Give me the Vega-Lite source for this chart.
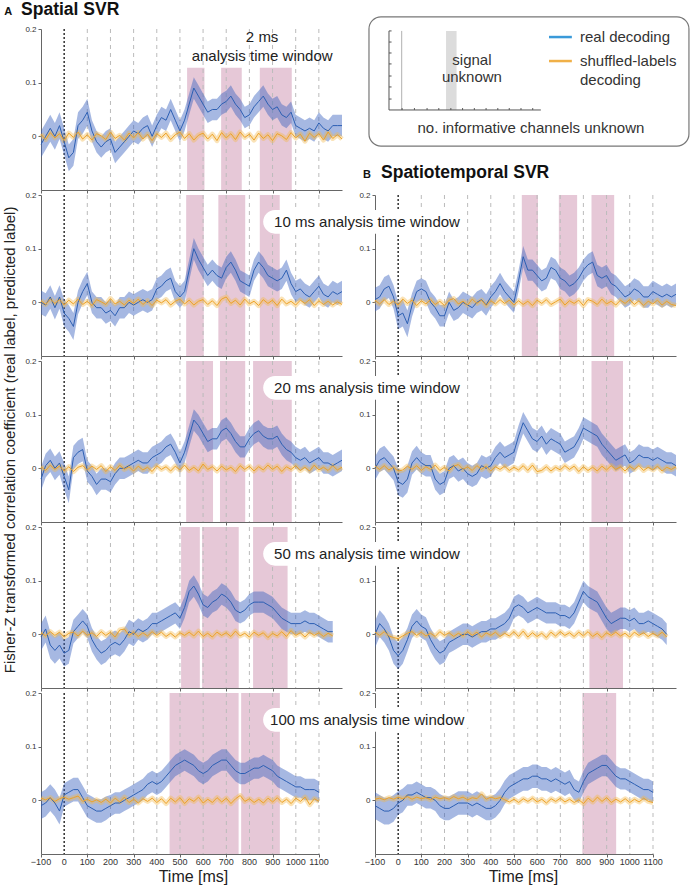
{
"$schema":"https://vega.github.io/schema/vega-lite/v6.json",
"padding":{"left":2,"top":1,"right":0,"bottom":0},
"config":{"font":"Liberation Sans","view":{"stroke":null},"axis":{"grid":false,"domainColor":"#666","tickColor":"#666","labelColor":"#333","labelFontSize":8,"tickSize":3,"labelPadding":2,"zindex":0}},
"columns":2,
"spacing":{"row":5,"column":33},
"bounds":"flush",
"datasets":{
"grid":[{"g":100},{"g":200},{"g":300},{"g":400},{"g":500},{"g":600},{"g":700},{"g":800},{"g":900},{"g":1000},{"g":1100}],
"ticks5":[{"v":-100},{"v":0},{"v":100},{"v":200},{"v":300},{"v":400},{"v":500},{"v":600},{"v":700},{"v":800},{"v":900},{"v":1000},{"v":1100}],
"a1":[{"t":-100,"r":-0.015,"e":0.025,"s":0.004},{"t":-80,"r":0,"e":0.025,"s":-0.006},{"t":-60,"r":0.015,"e":0.025,"s":0.007},{"t":-40,"r":0,"e":0.025,"s":-0.003},{"t":-20,"r":0.02,"e":0.025,"s":0.005},{"t":0,"r":-0.01,"e":0.025,"s":-0.008},{"t":20,"r":-0.04,"e":0.025,"s":0.006},{"t":40,"r":-0.03,"e":0.025,"s":-0.002},{"t":60,"r":0.02,"e":0.025,"s":0.008},{"t":80,"r":0.03,"e":0.025,"s":-0.005},{"t":100,"r":0.045,"e":0.025,"s":0.003},{"t":120,"r":0.01,"e":0.02,"s":-0.007},{"t":140,"r":-0.01,"e":0.02,"s":0.005},{"t":160,"r":-0.02,"e":0.02,"s":0.001},{"t":180,"r":-0.01,"e":0.02,"s":-0.006},{"t":200,"r":-0.005,"e":0.02,"s":0.008},{"t":220,"r":-0.03,"e":0.02,"s":-0.004},{"t":240,"r":-0.02,"e":0.02,"s":0.002},{"t":260,"r":-0.01,"e":0.02,"s":-0.007},{"t":280,"r":0,"e":0.02,"s":0.006},{"t":300,"r":0.01,"e":0.02,"s":-0.003},{"t":320,"r":0.005,"e":0.02,"s":0.007},{"t":340,"r":0.015,"e":0.02,"s":-0.005},{"t":360,"r":0.02,"e":0.02,"s":0.004},{"t":380,"r":0,"e":0.02,"s":-0.008},{"t":400,"r":0.02,"e":0.02,"s":0.005},{"t":420,"r":0.035,"e":0.02,"s":-0.002},{"t":440,"r":0.03,"e":0.02,"s":0.006},{"t":460,"r":0.05,"e":0.02,"s":-0.006},{"t":480,"r":0.03,"e":0.02,"s":0.003},{"t":500,"r":0.01,"e":0.02,"s":0.008},{"t":520,"r":0.03,"e":0.02,"s":-0.004},{"t":540,"r":0.06,"e":0.02,"s":0.005},{"t":560,"r":0.09,"e":0.02,"s":-0.007},{"t":580,"r":0.075,"e":0.02,"s":0.002},{"t":600,"r":0.06,"e":0.02,"s":0.006},{"t":620,"r":0.045,"e":0.02,"s":-0.005},{"t":640,"r":0.05,"e":0.02,"s":0.004},{"t":660,"r":0.05,"e":0.02,"s":-0.008},{"t":680,"r":0.06,"e":0.02,"s":0.007},{"t":700,"r":0.065,"e":0.02,"s":-0.003},{"t":720,"r":0.075,"e":0.02,"s":0.005},{"t":740,"r":0.06,"e":0.02,"s":-0.006},{"t":760,"r":0.05,"e":0.02,"s":0.008},{"t":780,"r":0.035,"e":0.02,"s":-0.002},{"t":800,"r":0.04,"e":0.02,"s":0.004},{"t":820,"r":0.055,"e":0.02,"s":-0.007},{"t":840,"r":0.065,"e":0.02,"s":0.006},{"t":860,"r":0.075,"e":0.02,"s":-0.004},{"t":880,"r":0.06,"e":0.02,"s":0.003},{"t":900,"r":0.05,"e":0.02,"s":-0.008},{"t":920,"r":0.055,"e":0.02,"s":0.005},{"t":940,"r":0.04,"e":0.02,"s":0.001},{"t":960,"r":0.035,"e":0.02,"s":-0.006},{"t":980,"r":0.045,"e":0.02,"s":0.007},{"t":1000,"r":0.02,"e":0.02,"s":-0.003},{"t":1020,"r":0.015,"e":0.02,"s":0.004},{"t":1040,"r":0.01,"e":0.02,"s":-0.009},{"t":1060,"r":0.015,"e":0.02,"s":0.006},{"t":1080,"r":0.01,"e":0.02,"s":-0.002},{"t":1100,"r":0.025,"e":0.02,"s":0.005},{"t":1120,"r":0.015,"e":0.02,"s":-0.007},{"t":1140,"r":0.01,"e":0.02,"s":0.008},{"t":1160,"r":0.02,"e":0.02,"s":-0.004},{"t":1180,"r":0.02,"e":0.02,"s":0.003},{"t":1200,"r":0.02,"e":0.02,"s":-0.005}],
"a2":[{"t":-100,"r":0,"e":0.022,"s":0.003},{"t":-80,"r":-0.005,"e":0.022,"s":-0.004},{"t":-60,"r":0.01,"e":0.022,"s":0.006},{"t":-40,"r":-0.01,"e":0.022,"s":-0.002},{"t":-20,"r":0.01,"e":0.022,"s":0.005},{"t":0,"r":-0.02,"e":0.025,"s":-0.005},{"t":20,"r":-0.03,"e":0.025,"s":0.004},{"t":40,"r":-0.045,"e":0.025,"s":-0.003},{"t":60,"r":0,"e":0.022,"s":0.006},{"t":80,"r":0.02,"e":0.022,"s":-0.004},{"t":100,"r":0.035,"e":0.022,"s":0.002},{"t":120,"r":0,"e":0.02,"s":-0.006},{"t":140,"r":-0.01,"e":0.02,"s":0.005},{"t":160,"r":-0.01,"e":0.02,"s":0.001},{"t":180,"r":-0.02,"e":0.02,"s":-0.004},{"t":200,"r":-0.015,"e":0.02,"s":0.007},{"t":220,"r":-0.025,"e":0.02,"s":-0.003},{"t":240,"r":-0.01,"e":0.02,"s":0.002},{"t":260,"r":-0.01,"e":0.02,"s":-0.005},{"t":280,"r":0,"e":0.02,"s":0.004},{"t":300,"r":-0.005,"e":0.02,"s":-0.002},{"t":320,"r":0,"e":0.02,"s":0.006},{"t":340,"r":0.005,"e":0.02,"s":-0.004},{"t":360,"r":0,"e":0.02,"s":0.003},{"t":380,"r":0.005,"e":0.02,"s":-0.006},{"t":400,"r":0.025,"e":0.02,"s":0.004},{"t":420,"r":0.03,"e":0.02,"s":-0.001},{"t":440,"r":0.04,"e":0.02,"s":0.005},{"t":460,"r":0.045,"e":0.02,"s":-0.005},{"t":480,"r":0.02,"e":0.02,"s":0.002},{"t":500,"r":0.01,"e":0.02,"s":0.006},{"t":520,"r":0.02,"e":0.02,"s":-0.003},{"t":540,"r":0.06,"e":0.02,"s":0.004},{"t":560,"r":0.1,"e":0.02,"s":-0.005},{"t":580,"r":0.08,"e":0.02,"s":0.002},{"t":600,"r":0.065,"e":0.02,"s":0.005},{"t":620,"r":0.05,"e":0.02,"s":-0.004},{"t":640,"r":0.06,"e":0.02,"s":0.003},{"t":660,"r":0.05,"e":0.02,"s":-0.006},{"t":680,"r":0.045,"e":0.02,"s":0.006},{"t":700,"r":0.065,"e":0.02,"s":0.01},{"t":720,"r":0.075,"e":0.02,"s":-0.002},{"t":740,"r":0.06,"e":0.02,"s":0.004},{"t":760,"r":0.04,"e":0.02,"s":-0.005},{"t":780,"r":0.035,"e":0.02,"s":0.006},{"t":800,"r":0.03,"e":0.02,"s":-0.003},{"t":820,"r":0.06,"e":0.02,"s":0.002},{"t":840,"r":0.075,"e":0.02,"s":-0.006},{"t":860,"r":0.065,"e":0.02,"s":0.005},{"t":880,"r":0.05,"e":0.02,"s":-0.002},{"t":900,"r":0.045,"e":0.02,"s":0.004},{"t":920,"r":0.04,"e":0.02,"s":-0.006},{"t":940,"r":0.045,"e":0.02,"s":0.006},{"t":960,"r":0.06,"e":0.02,"s":-0.003},{"t":980,"r":0.035,"e":0.02,"s":0.002},{"t":1000,"r":0.02,"e":0.02,"s":-0.005},{"t":1020,"r":0.025,"e":0.02,"s":0.004},{"t":1040,"r":0.015,"e":0.02,"s":-0.002},{"t":1060,"r":0.01,"e":0.02,"s":0.005},{"t":1080,"r":0.02,"e":0.02,"s":-0.006},{"t":1100,"r":0.03,"e":0.02,"s":0.003},{"t":1120,"r":0.015,"e":0.02,"s":-0.004},{"t":1140,"r":0.01,"e":0.02,"s":0.002},{"t":1160,"r":0.02,"e":0.02,"s":-0.005},{"t":1180,"r":0.015,"e":0.02,"s":0.001},{"t":1200,"r":0.02,"e":0.02,"s":-0.004}],
"a3":[{"t":-100,"r":-0.02,"e":0.022,"s":0.003},{"t":-80,"r":0.005,"e":0.022,"s":-0.004},{"t":-60,"r":0.015,"e":0.022,"s":0.006},{"t":-40,"r":0,"e":0.022,"s":-0.002},{"t":-20,"r":0.01,"e":0.022,"s":0.004},{"t":0,"r":-0.015,"e":0.025,"s":-0.005},{"t":20,"r":-0.04,"e":0.025,"s":0.003},{"t":40,"r":0.02,"e":0.022,"s":-0.006},{"t":60,"r":0.03,"e":0.022,"s":0.002},{"t":80,"r":0.035,"e":0.022,"s":0.005},{"t":100,"r":-0.005,"e":0.02,"s":-0.003},{"t":120,"r":-0.015,"e":0.02,"s":0.004},{"t":140,"r":-0.03,"e":0.02,"s":-0.002},{"t":160,"r":-0.02,"e":0.02,"s":0.005},{"t":180,"r":-0.02,"e":0.02,"s":-0.006},{"t":200,"r":-0.025,"e":0.02,"s":0.003},{"t":220,"r":-0.01,"e":0.02,"s":-0.004},{"t":240,"r":0,"e":0.02,"s":0.006},{"t":260,"r":0,"e":0.02,"s":-0.002},{"t":280,"r":0.005,"e":0.02,"s":0.003},{"t":300,"r":0.01,"e":0.02,"s":-0.005},{"t":320,"r":0.015,"e":0.02,"s":0.004},{"t":340,"r":0.01,"e":0.02,"s":-0.003},{"t":360,"r":0.01,"e":0.02,"s":0.002},{"t":380,"r":0.02,"e":0.02,"s":-0.006},{"t":400,"r":0.025,"e":0.02,"s":0.005},{"t":420,"r":0.03,"e":0.02,"s":-0.002},{"t":440,"r":0.04,"e":0.02,"s":0.003},{"t":460,"r":0.045,"e":0.02,"s":-0.005},{"t":480,"r":0.03,"e":0.02,"s":0.004},{"t":500,"r":0.01,"e":0.02,"s":-0.003},{"t":520,"r":0.03,"e":0.02,"s":0.006},{"t":540,"r":0.06,"e":0.02,"s":-0.004},{"t":560,"r":0.09,"e":0.02,"s":0.002},{"t":580,"r":0.08,"e":0.02,"s":-0.005},{"t":600,"r":0.065,"e":0.02,"s":0.008},{"t":620,"r":0.05,"e":0.02,"s":-0.002},{"t":640,"r":0.055,"e":0.02,"s":0.003},{"t":660,"r":0.055,"e":0.02,"s":-0.005},{"t":680,"r":0.07,"e":0.02,"s":0.004},{"t":700,"r":0.075,"e":0.02,"s":-0.003},{"t":720,"r":0.065,"e":0.02,"s":0.002},{"t":740,"r":0.05,"e":0.02,"s":-0.006},{"t":760,"r":0.04,"e":0.02,"s":0.005},{"t":780,"r":0.04,"e":0.02,"s":-0.002},{"t":800,"r":0.055,"e":0.02,"s":0.004},{"t":820,"r":0.065,"e":0.02,"s":-0.005},{"t":840,"r":0.07,"e":0.02,"s":0.003},{"t":860,"r":0.06,"e":0.02,"s":-0.003},{"t":880,"r":0.055,"e":0.02,"s":0.006},{"t":900,"r":0.055,"e":0.02,"s":-0.002},{"t":920,"r":0.06,"e":0.02,"s":0.004},{"t":940,"r":0.045,"e":0.02,"s":-0.006},{"t":960,"r":0.035,"e":0.02,"s":0.003},{"t":980,"r":0.03,"e":0.02,"s":-0.002},{"t":1000,"r":0.02,"e":0.02,"s":0.005},{"t":1020,"r":0.015,"e":0.02,"s":-0.004},{"t":1040,"r":0.02,"e":0.02,"s":0.002},{"t":1060,"r":0.01,"e":0.02,"s":-0.005},{"t":1080,"r":0.015,"e":0.02,"s":0.006},{"t":1100,"r":0.02,"e":0.02,"s":-0.003},{"t":1120,"r":0.01,"e":0.02,"s":0.002},{"t":1140,"r":0.01,"e":0.02,"s":-0.004},{"t":1160,"r":0.005,"e":0.02,"s":0.005},{"t":1180,"r":0.01,"e":0.02,"s":-0.003},{"t":1200,"r":0.015,"e":0.02,"s":0.002}],
"a4":[{"t":-100,"r":-0.005,"e":0.025,"s":0.003},{"t":-80,"r":0.01,"e":0.025,"s":-0.003},{"t":-60,"r":-0.02,"e":0.025,"s":0.005},{"t":-40,"r":-0.03,"e":0.025,"s":-0.002},{"t":-20,"r":-0.02,"e":0.025,"s":0.004},{"t":0,"r":-0.035,"e":0.025,"s":-0.005},{"t":20,"r":-0.03,"e":0.025,"s":0.002},{"t":40,"r":0.005,"e":0.022,"s":0.004},{"t":60,"r":0.015,"e":0.022,"s":-0.003},{"t":80,"r":0.025,"e":0.022,"s":0.006},{"t":100,"r":0.015,"e":0.022,"s":-0.002},{"t":120,"r":-0.01,"e":0.022,"s":0.003},{"t":140,"r":-0.025,"e":0.022,"s":-0.004},{"t":160,"r":-0.035,"e":0.022,"s":0.005},{"t":180,"r":-0.03,"e":0.022,"s":-0.002},{"t":200,"r":-0.02,"e":0.022,"s":0.004},{"t":220,"r":-0.015,"e":0.022,"s":-0.005},{"t":240,"r":-0.02,"e":0.022,"s":0.008},{"t":260,"r":-0.01,"e":0.022,"s":0.01},{"t":280,"r":0.005,"e":0.022,"s":-0.002},{"t":300,"r":0,"e":0.022,"s":0.004},{"t":320,"r":0.01,"e":0.02,"s":-0.004},{"t":340,"r":0.005,"e":0.02,"s":0.003},{"t":360,"r":0.01,"e":0.02,"s":-0.003},{"t":380,"r":0.02,"e":0.02,"s":0.005},{"t":400,"r":0.02,"e":0.02,"s":-0.002},{"t":420,"r":0.025,"e":0.02,"s":0.004},{"t":440,"r":0.03,"e":0.02,"s":-0.004},{"t":460,"r":0.035,"e":0.02,"s":0.002},{"t":480,"r":0.04,"e":0.02,"s":-0.005},{"t":500,"r":0.03,"e":0.02,"s":0.003},{"t":520,"r":0.05,"e":0.02,"s":-0.002},{"t":540,"r":0.08,"e":0.02,"s":0.004},{"t":560,"r":0.09,"e":0.02,"s":-0.003},{"t":580,"r":0.075,"e":0.02,"s":0.006},{"t":600,"r":0.055,"e":0.02,"s":-0.004},{"t":620,"r":0.05,"e":0.02,"s":0.002},{"t":640,"r":0.06,"e":0.02,"s":-0.005},{"t":660,"r":0.065,"e":0.02,"s":0.004},{"t":680,"r":0.075,"e":0.02,"s":-0.002},{"t":700,"r":0.07,"e":0.02,"s":0.003},{"t":720,"r":0.06,"e":0.02,"s":-0.004},{"t":740,"r":0.045,"e":0.02,"s":0.006},{"t":760,"r":0.04,"e":0.02,"s":-0.003},{"t":780,"r":0.045,"e":0.02,"s":0.002},{"t":800,"r":0.055,"e":0.02,"s":-0.005},{"t":820,"r":0.06,"e":0.02,"s":0.004},{"t":840,"r":0.06,"e":0.02,"s":-0.002},{"t":860,"r":0.06,"e":0.02,"s":0.003},{"t":880,"r":0.055,"e":0.02,"s":-0.006},{"t":900,"r":0.05,"e":0.02,"s":0.002},{"t":920,"r":0.04,"e":0.02,"s":-0.003},{"t":940,"r":0.03,"e":0.02,"s":0.005},{"t":960,"r":0.025,"e":0.02,"s":-0.004},{"t":980,"r":0.02,"e":0.02,"s":0.007},{"t":1000,"r":0.02,"e":0.02,"s":-0.002},{"t":1020,"r":0.02,"e":0.02,"s":0.003},{"t":1040,"r":0.025,"e":0.02,"s":-0.005},{"t":1060,"r":0.02,"e":0.02,"s":0.004},{"t":1080,"r":0.02,"e":0.02,"s":-0.002},{"t":1100,"r":0.015,"e":0.02,"s":0.003},{"t":1120,"r":0.01,"e":0.02,"s":-0.004},{"t":1140,"r":0.005,"e":0.02,"s":0.002},{"t":1160,"r":0.005,"e":0.02,"s":-0.003}],
"a5":[{"t":-100,"r":-0.01,"e":0.025,"s":0.004},{"t":-80,"r":-0.005,"e":0.025,"s":0.001},{"t":-60,"r":0.005,"e":0.025,"s":0.005},{"t":-40,"r":-0.005,"e":0.025,"s":-0.002},{"t":-20,"r":-0.02,"e":0.025,"s":0.003},{"t":0,"r":0.01,"e":0.022,"s":0.006},{"t":20,"r":0.015,"e":0.022,"s":0.002},{"t":40,"r":0.02,"e":0.022,"s":0.005},{"t":60,"r":0.02,"e":0.022,"s":0.008},{"t":80,"r":0.005,"e":0.022,"s":-0.002},{"t":100,"r":-0.01,"e":0.022,"s":0.002},{"t":120,"r":-0.015,"e":0.022,"s":-0.003},{"t":140,"r":-0.02,"e":0.022,"s":0.001},{"t":160,"r":-0.02,"e":0.022,"s":-0.004},{"t":180,"r":-0.015,"e":0.022,"s":0.002},{"t":200,"r":-0.01,"e":0.02,"s":-0.005},{"t":220,"r":-0.005,"e":0.02,"s":0.004},{"t":240,"r":-0.005,"e":0.02,"s":-0.003},{"t":260,"r":0,"e":0.02,"s":0.006},{"t":280,"r":0.005,"e":0.02,"s":-0.004},{"t":300,"r":0.01,"e":0.02,"s":0.002},{"t":320,"r":0.015,"e":0.02,"s":-0.005},{"t":340,"r":0.02,"e":0.02,"s":0.003},{"t":360,"r":0.03,"e":0.02,"s":-0.002},{"t":380,"r":0.035,"e":0.02,"s":0.004},{"t":400,"r":0.03,"e":0.02,"s":-0.004},{"t":420,"r":0.035,"e":0.02,"s":0.003},{"t":440,"r":0.045,"e":0.02,"s":-0.006},{"t":460,"r":0.055,"e":0.02,"s":0.004},{"t":480,"r":0.065,"e":0.02,"s":-0.003},{"t":500,"r":0.07,"e":0.02,"s":0.005},{"t":520,"r":0.075,"e":0.02,"s":-0.006},{"t":540,"r":0.07,"e":0.02,"s":0.003},{"t":560,"r":0.065,"e":0.02,"s":-0.002},{"t":580,"r":0.055,"e":0.02,"s":0.006},{"t":600,"r":0.05,"e":0.02,"s":-0.005},{"t":620,"r":0.055,"e":0.02,"s":0.002},{"t":640,"r":0.065,"e":0.02,"s":-0.004},{"t":660,"r":0.07,"e":0.02,"s":0.005},{"t":680,"r":0.075,"e":0.02,"s":-0.003},{"t":700,"r":0.075,"e":0.02,"s":0.004},{"t":720,"r":0.065,"e":0.02,"s":-0.006},{"t":740,"r":0.055,"e":0.02,"s":0.003},{"t":760,"r":0.05,"e":0.02,"s":0.009},{"t":780,"r":0.05,"e":0.02,"s":-0.002},{"t":800,"r":0.055,"e":0.02,"s":0.003},{"t":820,"r":0.06,"e":0.02,"s":-0.004},{"t":840,"r":0.06,"e":0.02,"s":0.002},{"t":860,"r":0.065,"e":0.02,"s":-0.005},{"t":880,"r":0.06,"e":0.02,"s":0.004},{"t":900,"r":0.055,"e":0.02,"s":-0.003},{"t":920,"r":0.045,"e":0.02,"s":0.005},{"t":940,"r":0.04,"e":0.02,"s":-0.004},{"t":960,"r":0.035,"e":0.02,"s":0.002},{"t":980,"r":0.03,"e":0.02,"s":-0.006},{"t":1000,"r":0.025,"e":0.02,"s":0.004},{"t":1020,"r":0.025,"e":0.02,"s":-0.002},{"t":1040,"r":0.02,"e":0.02,"s":0.006},{"t":1060,"r":0.02,"e":0.02,"s":-0.008},{"t":1080,"r":0.02,"e":0.02,"s":0.003},{"t":1100,"r":0.015,"e":0.02,"s":-0.002}],
"b2":[{"t":-100,"r":0.005,"e":0.022,"s":0.004},{"t":-80,"r":0.01,"e":0.022,"s":-0.003},{"t":-60,"r":0.025,"e":0.022,"s":0.005},{"t":-40,"r":0.03,"e":0.022,"s":-0.004},{"t":-20,"r":0.01,"e":0.022,"s":0.002},{"t":0,"r":-0.025,"e":0.025,"s":-0.005},{"t":20,"r":-0.02,"e":0.025,"s":0.006},{"t":40,"r":-0.04,"e":0.025,"s":-0.002},{"t":60,"r":-0.005,"e":0.022,"s":0.004},{"t":80,"r":0.02,"e":0.02,"s":-0.006},{"t":100,"r":0.025,"e":0.02,"s":0.003},{"t":120,"r":0.02,"e":0.02,"s":-0.003},{"t":140,"r":0,"e":0.02,"s":0.005},{"t":160,"r":-0.01,"e":0.02,"s":-0.004},{"t":180,"r":-0.025,"e":0.02,"s":0.002},{"t":200,"r":-0.025,"e":0.02,"s":-0.006},{"t":220,"r":0,"e":0.02,"s":0.004},{"t":240,"r":-0.015,"e":0.02,"s":0.007},{"t":260,"r":-0.01,"e":0.02,"s":-0.003},{"t":280,"r":0,"e":0.02,"s":0.002},{"t":300,"r":-0.005,"e":0.02,"s":-0.005},{"t":320,"r":-0.01,"e":0.02,"s":0.006},{"t":340,"r":0,"e":0.02,"s":-0.002},{"t":360,"r":0.005,"e":0.02,"s":0.004},{"t":380,"r":-0.005,"e":0.02,"s":-0.006},{"t":400,"r":0.01,"e":0.02,"s":0.003},{"t":420,"r":0.02,"e":0.02,"s":-0.003},{"t":440,"r":0.035,"e":0.02,"s":0.005},{"t":460,"r":0.02,"e":0.02,"s":-0.002},{"t":480,"r":0.01,"e":0.02,"s":0.004},{"t":500,"r":0,"e":0.02,"s":-0.005},{"t":520,"r":0.04,"e":0.02,"s":0.003},{"t":540,"r":0.085,"e":0.02,"s":-0.004},{"t":560,"r":0.06,"e":0.02,"s":0.002},{"t":580,"r":0.06,"e":0.02,"s":-0.006},{"t":600,"r":0.05,"e":0.02,"s":0.004},{"t":620,"r":0.04,"e":0.02,"s":-0.002},{"t":640,"r":0.045,"e":0.02,"s":0.005},{"t":660,"r":0.065,"e":0.02,"s":-0.004},{"t":680,"r":0.06,"e":0.02,"s":0.001},{"t":700,"r":0.045,"e":0.02,"s":0.006},{"t":720,"r":0.04,"e":0.02,"s":-0.005},{"t":740,"r":0.03,"e":0.02,"s":0.003},{"t":760,"r":0.035,"e":0.02,"s":-0.002},{"t":780,"r":0.045,"e":0.02,"s":0.004},{"t":800,"r":0.06,"e":0.02,"s":-0.006},{"t":820,"r":0.07,"e":0.02,"s":0.005},{"t":840,"r":0.075,"e":0.02,"s":0.002},{"t":860,"r":0.05,"e":0.02,"s":-0.004},{"t":880,"r":0.045,"e":0.02,"s":0.006},{"t":900,"r":0.05,"e":0.02,"s":-0.003},{"t":920,"r":0.035,"e":0.02,"s":0.002},{"t":940,"r":0.03,"e":0.02,"s":-0.005},{"t":960,"r":0.02,"e":0.02,"s":0.004},{"t":980,"r":0.01,"e":0.02,"s":-0.002},{"t":1000,"r":0.015,"e":0.02,"s":0.005},{"t":1020,"r":0.025,"e":0.02,"s":-0.004},{"t":1040,"r":0.02,"e":0.02,"s":0.003},{"t":1060,"r":0.01,"e":0.02,"s":-0.006},{"t":1080,"r":0.01,"e":0.02,"s":0.002},{"t":1100,"r":0.02,"e":0.02,"s":-0.003},{"t":1120,"r":0.015,"e":0.02,"s":0.004},{"t":1140,"r":0.01,"e":0.02,"s":-0.005},{"t":1160,"r":0.015,"e":0.02,"s":0.002},{"t":1180,"r":0.01,"e":0.02,"s":-0.004},{"t":1200,"r":0.015,"e":0.02,"s":-0.006}],
"b3":[{"t":-100,"r":0,"e":0.022,"s":0.004},{"t":-80,"r":0.015,"e":0.022,"s":-0.002},{"t":-60,"r":0.02,"e":0.022,"s":0.005},{"t":-40,"r":0.01,"e":0.022,"s":-0.003},{"t":-20,"r":0,"e":0.022,"s":0.002},{"t":0,"r":-0.025,"e":0.025,"s":-0.005},{"t":20,"r":-0.03,"e":0.025,"s":-0.003},{"t":40,"r":-0.02,"e":0.025,"s":0.004},{"t":60,"r":0.01,"e":0.022,"s":-0.002},{"t":80,"r":0.02,"e":0.022,"s":0.005},{"t":100,"r":0.01,"e":0.02,"s":-0.004},{"t":120,"r":0.005,"e":0.02,"s":0.003},{"t":140,"r":0.005,"e":0.02,"s":-0.002},{"t":160,"r":-0.02,"e":0.02,"s":0.006},{"t":180,"r":-0.03,"e":0.02,"s":-0.004},{"t":200,"r":-0.025,"e":0.02,"s":0.002},{"t":220,"r":0,"e":0.02,"s":-0.005},{"t":240,"r":0.005,"e":0.02,"s":0.004},{"t":260,"r":-0.005,"e":0.02,"s":0.007},{"t":280,"r":0,"e":0.02,"s":-0.002},{"t":300,"r":-0.01,"e":0.02,"s":0.003},{"t":320,"r":-0.015,"e":0.02,"s":-0.004},{"t":340,"r":-0.01,"e":0.02,"s":0.005},{"t":360,"r":0.005,"e":0.02,"s":-0.002},{"t":380,"r":0,"e":0.02,"s":0.004},{"t":400,"r":0.005,"e":0.02,"s":-0.005},{"t":420,"r":0.02,"e":0.02,"s":0.003},{"t":440,"r":0.03,"e":0.02,"s":-0.002},{"t":460,"r":0.02,"e":0.02,"s":0.004},{"t":480,"r":0.025,"e":0.02,"s":-0.004},{"t":500,"r":0.03,"e":0.02,"s":0.002},{"t":520,"r":0.06,"e":0.02,"s":-0.003},{"t":540,"r":0.085,"e":0.02,"s":0.005},{"t":560,"r":0.07,"e":0.02,"s":-0.004},{"t":580,"r":0.055,"e":0.02,"s":0.006},{"t":600,"r":0.05,"e":0.02,"s":-0.006},{"t":620,"r":0.06,"e":0.02,"s":-0.004},{"t":640,"r":0.045,"e":0.02,"s":0.003},{"t":660,"r":0.055,"e":0.02,"s":-0.005},{"t":680,"r":0.05,"e":0.02,"s":0.002},{"t":700,"r":0.045,"e":0.02,"s":-0.003},{"t":720,"r":0.03,"e":0.02,"s":0.005},{"t":740,"r":0.035,"e":0.02,"s":-0.002},{"t":760,"r":0.04,"e":0.02,"s":0.004},{"t":780,"r":0.055,"e":0.02,"s":-0.006},{"t":800,"r":0.075,"e":0.02,"s":0.003},{"t":820,"r":0.07,"e":0.02,"s":-0.004},{"t":840,"r":0.065,"e":0.02,"s":0.002},{"t":860,"r":0.06,"e":0.02,"s":-0.005},{"t":880,"r":0.045,"e":0.02,"s":0.004},{"t":900,"r":0.035,"e":0.02,"s":-0.003},{"t":920,"r":0.025,"e":0.02,"s":0.005},{"t":940,"r":0.015,"e":0.02,"s":-0.002},{"t":960,"r":0.02,"e":0.02,"s":0.003},{"t":980,"r":0.025,"e":0.02,"s":-0.005},{"t":1000,"r":0.01,"e":0.02,"s":0.004},{"t":1020,"r":0.015,"e":0.02,"s":-0.002},{"t":1040,"r":0.025,"e":0.02,"s":0.005},{"t":1060,"r":0.02,"e":0.02,"s":-0.004},{"t":1080,"r":0.02,"e":0.02,"s":0.002},{"t":1100,"r":0.015,"e":0.02,"s":-0.003},{"t":1120,"r":0.02,"e":0.02,"s":0.004},{"t":1140,"r":0.015,"e":0.02,"s":-0.005},{"t":1160,"r":0.01,"e":0.02,"s":0.002},{"t":1180,"r":0.01,"e":0.02,"s":-0.002},{"t":1200,"r":0.005,"e":0.02,"s":0.003}],
"b4":[{"t":-100,"r":0,"e":0.025,"s":0.004},{"t":-80,"r":0.02,"e":0.025,"s":-0.002},{"t":-60,"r":0.01,"e":0.025,"s":0.005},{"t":-40,"r":-0.005,"e":0.025,"s":-0.003},{"t":-20,"r":-0.03,"e":0.025,"s":-0.006},{"t":0,"r":-0.04,"e":0.025,"s":-0.008},{"t":20,"r":-0.03,"e":0.025,"s":-0.003},{"t":40,"r":-0.01,"e":0.022,"s":0.002},{"t":60,"r":0.015,"e":0.022,"s":0.005},{"t":80,"r":0.025,"e":0.022,"s":-0.002},{"t":100,"r":0.015,"e":0.022,"s":0.004},{"t":120,"r":0.01,"e":0.022,"s":-0.003},{"t":140,"r":-0.01,"e":0.022,"s":0.002},{"t":160,"r":-0.025,"e":0.022,"s":-0.004},{"t":180,"r":-0.035,"e":0.022,"s":0.005},{"t":200,"r":-0.03,"e":0.022,"s":-0.002},{"t":220,"r":-0.015,"e":0.02,"s":0.003},{"t":240,"r":-0.01,"e":0.02,"s":-0.004},{"t":260,"r":-0.005,"e":0.02,"s":0.002},{"t":280,"r":0,"e":0.02,"s":-0.003},{"t":300,"r":0,"e":0.02,"s":0.005},{"t":320,"r":-0.005,"e":0.02,"s":-0.002},{"t":340,"r":0,"e":0.02,"s":0.004},{"t":360,"r":0.005,"e":0.02,"s":-0.005},{"t":380,"r":0.005,"e":0.02,"s":0.003},{"t":400,"r":0.01,"e":0.02,"s":-0.002},{"t":420,"r":0.01,"e":0.02,"s":0.004},{"t":440,"r":0.015,"e":0.02,"s":-0.004},{"t":460,"r":0.02,"e":0.02,"s":0.002},{"t":480,"r":0.03,"e":0.02,"s":-0.003},{"t":500,"r":0.05,"e":0.02,"s":0.005},{"t":520,"r":0.055,"e":0.02,"s":-0.004},{"t":540,"r":0.05,"e":0.02,"s":0.006},{"t":560,"r":0.04,"e":0.02,"s":-0.005},{"t":580,"r":0.045,"e":0.02,"s":0.003},{"t":600,"r":0.05,"e":0.02,"s":-0.004},{"t":620,"r":0.045,"e":0.02,"s":0.002},{"t":640,"r":0.04,"e":0.02,"s":-0.006},{"t":660,"r":0.04,"e":0.02,"s":0.004},{"t":680,"r":0.04,"e":0.02,"s":-0.003},{"t":700,"r":0.035,"e":0.02,"s":0.005},{"t":720,"r":0.035,"e":0.02,"s":-0.002},{"t":740,"r":0.03,"e":0.02,"s":0.003},{"t":760,"r":0.04,"e":0.02,"s":-0.004},{"t":780,"r":0.06,"e":0.02,"s":0.004},{"t":800,"r":0.08,"e":0.02,"s":-0.003},{"t":820,"r":0.07,"e":0.02,"s":0.005},{"t":840,"r":0.065,"e":0.02,"s":-0.004},{"t":860,"r":0.06,"e":0.02,"s":0.002},{"t":880,"r":0.045,"e":0.02,"s":-0.006},{"t":900,"r":0.03,"e":0.02,"s":0.003},{"t":920,"r":0.02,"e":0.02,"s":-0.002},{"t":940,"r":0.025,"e":0.02,"s":0.004},{"t":960,"r":0.03,"e":0.02,"s":-0.003},{"t":980,"r":0.03,"e":0.02,"s":0.002},{"t":1000,"r":0.025,"e":0.02,"s":-0.005},{"t":1020,"r":0.03,"e":0.02,"s":0.004},{"t":1040,"r":0.02,"e":0.02,"s":-0.002},{"t":1060,"r":0.02,"e":0.02,"s":0.003},{"t":1080,"r":0.025,"e":0.02,"s":-0.004},{"t":1100,"r":0.02,"e":0.02,"s":0.002},{"t":1120,"r":0.015,"e":0.02,"s":-0.003},{"t":1140,"r":0.01,"e":0.02,"s":0.004},{"t":1160,"r":0,"e":0.02,"s":-0.005}],
"b5":[{"t":-100,"r":-0.01,"e":0.025,"s":0.002},{"t":-80,"r":-0.015,"e":0.025,"s":0.004},{"t":-60,"r":-0.02,"e":0.025,"s":0.001},{"t":-40,"r":-0.02,"e":0.025,"s":0.005},{"t":-20,"r":-0.015,"e":0.025,"s":0.002},{"t":0,"r":-0.005,"e":0.022,"s":0.006},{"t":20,"r":0,"e":0.022,"s":0.003},{"t":40,"r":0.01,"e":0.02,"s":0.007},{"t":60,"r":0.01,"e":0.02,"s":0.002},{"t":80,"r":0.015,"e":0.02,"s":0.006},{"t":100,"r":0.01,"e":0.02,"s":0.003},{"t":120,"r":0.005,"e":0.02,"s":0.005},{"t":140,"r":0.005,"e":0.02,"s":0.001},{"t":160,"r":0,"e":0.02,"s":0.006},{"t":180,"r":-0.01,"e":0.022,"s":0.003},{"t":200,"r":-0.015,"e":0.022,"s":0.005},{"t":220,"r":-0.015,"e":0.022,"s":0.002},{"t":240,"r":-0.01,"e":0.022,"s":0.007},{"t":260,"r":-0.005,"e":0.022,"s":0.003},{"t":280,"r":-0.005,"e":0.022,"s":0.006},{"t":300,"r":-0.005,"e":0.022,"s":0.001},{"t":320,"r":-0.01,"e":0.022,"s":0.005},{"t":340,"r":-0.005,"e":0.022,"s":0.003},{"t":360,"r":-0.01,"e":0.022,"s":0.012},{"t":380,"r":-0.015,"e":0.022,"s":0.002},{"t":400,"r":-0.015,"e":0.022,"s":0.006},{"t":420,"r":-0.01,"e":0.022,"s":0.003},{"t":440,"r":0,"e":0.022,"s":0.005},{"t":460,"r":0.015,"e":0.022,"s":0.001},{"t":480,"r":0.025,"e":0.022,"s":-0.003},{"t":500,"r":0.03,"e":0.022,"s":0.002},{"t":520,"r":0.035,"e":0.022,"s":-0.004},{"t":540,"r":0.04,"e":0.022,"s":0.003},{"t":560,"r":0.04,"e":0.022,"s":-0.002},{"t":580,"r":0.045,"e":0.022,"s":0.004},{"t":600,"r":0.045,"e":0.022,"s":-0.003},{"t":620,"r":0.04,"e":0.022,"s":0.002},{"t":640,"r":0.04,"e":0.022,"s":-0.005},{"t":660,"r":0.035,"e":0.022,"s":0.003},{"t":680,"r":0.04,"e":0.022,"s":-0.002},{"t":700,"r":0.035,"e":0.022,"s":0.004},{"t":720,"r":0.03,"e":0.022,"s":-0.003},{"t":740,"r":0.035,"e":0.022,"s":0.002},{"t":760,"r":0.02,"e":0.02,"s":-0.004},{"t":780,"r":0.015,"e":0.02,"s":0.001},{"t":800,"r":0.035,"e":0.02,"s":-0.006},{"t":820,"r":0.05,"e":0.02,"s":0.004},{"t":840,"r":0.055,"e":0.02,"s":-0.003},{"t":860,"r":0.06,"e":0.02,"s":0.006},{"t":880,"r":0.065,"e":0.02,"s":-0.002},{"t":900,"r":0.065,"e":0.02,"s":0.005},{"t":920,"r":0.055,"e":0.02,"s":-0.004},{"t":940,"r":0.045,"e":0.02,"s":0.002},{"t":960,"r":0.04,"e":0.02,"s":-0.003},{"t":980,"r":0.04,"e":0.02,"s":0.003},{"t":1000,"r":0.035,"e":0.02,"s":-0.004},{"t":1020,"r":0.03,"e":0.02,"s":0.002},{"t":1040,"r":0.025,"e":0.02,"s":-0.003},{"t":1060,"r":0.02,"e":0.02,"s":0.004},{"t":1080,"r":0.02,"e":0.02,"s":-0.002},{"t":1100,"r":0.015,"e":0.02,"s":-0.004}]
},
"concat":[
{"width":301,"height":161,"data":{"name":"a1"},"layer":[
{"data":{"values":[{"a":531,"b":606},{"a":678,"b":767},{"a":845,"b":983}]},"mark":{"type":"rect","color":"#e6c8d7"},"encoding":{"x":{"field":"a","type":"quantitative","scale":{"domain":[-100,1200],"nice":false,"zero":false},"axis":{"values":[-100,0,100,200,300,400,500,600,700,800,900,1000,1100,1200],"labels":false,"title":null}},"x2":{"field":"b"},"y":{"datum":-0.1,"type":"quantitative","scale":{"domain":[-0.1,0.2],"nice":false,"zero":false},"axis":{"values":[0,0.1,0.2],"format":"~g","title":null}},"y2":{"datum":0.128}}},
{"data":{"name":"grid"},"mark":{"type":"rule","color":"#bbbbbb","strokeDash":[4,4]},"encoding":{"x":{"field":"g","type":"quantitative"}}},
{"data":{"values":[{}]},"mark":{"type":"rule","color":"#111111","strokeDash":[2,2],"strokeWidth":1.3},"encoding":{"x":{"datum":0}}},
{"mark":{"type":"errorband","color":"#3a62bf","band":{"opacity":0.45}},"encoding":{"x":{"field":"t","type":"quantitative"},"y":{"field":"r","type":"quantitative"},"yError":{"field":"e"}}},
{"mark":{"type":"line","color":"#f3b94d","strokeWidth":5,"opacity":0.4,"strokeJoin":"round"},"encoding":{"x":{"field":"t","type":"quantitative"},"y":{"field":"s","type":"quantitative"}}},
{"mark":{"type":"line","color":"#2c5fb3","strokeWidth":1},"encoding":{"x":{"field":"t","type":"quantitative"},"y":{"field":"r","type":"quantitative"}}},
{"mark":{"type":"line","color":"#eea226","strokeWidth":1},"encoding":{"x":{"field":"t","type":"quantitative"},"y":{"field":"s","type":"quantitative"}}},
{"data":{"values":[{"l":"2 ms","y":0.185},{"l":"analysis time window","y":0.1497}]},"mark":{"type":"text","fontSize":15,"align":"center","baseline":"middle","color":"#222222"},"encoding":{"x":{"datum":855},"y":{"field":"y","type":"quantitative"},"text":{"field":"l"}}},
{"data":{"values":[{}]},"mark":{"type":"text","text":"A","fontSize":11,"fontWeight":"bold","align":"left","baseline":"alphabetic","color":"#111111"},"encoding":{"x":{"datum":-259},"y":{"datum":0.226}}},
{"data":{"values":[{}]},"mark":{"type":"text","text":"Spatial SVR","fontSize":17.5,"fontWeight":"bold","align":"left","baseline":"alphabetic","color":"#111111"},"encoding":{"x":{"datum":-186},"y":{"datum":0.226}}}
]},
{"width":301,"height":161,"data":{"values":[{}]},"layer":[
{"mark":{"type":"rect","fill":"white","stroke":"#777777","strokeWidth":1.2,"cornerRadius":12},"encoding":{"x":{"datum":-2,"type":"quantitative","scale":{"domain":[0,100],"nice":false,"zero":false},"axis":null},"x2":{"datum":104.3},"y":{"datum":27.3,"type":"quantitative","scale":{"domain":[0,100],"nice":false,"zero":false},"axis":null},"y2":{"datum":107.5}}},
{"mark":{"type":"rect","color":"#dcdcdc"},"encoding":{"x":{"datum":23.6},"x2":{"datum":27.1},"y":{"datum":49.7},"y2":{"datum":98.8}}},
{"mark":{"type":"rule","color":"#b0b0b0"},"encoding":{"x":{"datum":8.87},"y":{"datum":49.7},"y2":{"datum":98.8}}},
{"data":{"values":[{"x":4.65,"x2":4.65,"y":49.7,"y2":98.8},{"x":4.65,"x2":55.1,"y":49.7,"y2":49.7},{"x":4.65,"x2":5.5,"y":98.8,"y2":98.8},{"x":4.65,"x2":5.5,"y":91.9,"y2":91.9},{"x":4.65,"x2":5.5,"y":85.1,"y2":85.1},{"x":4.65,"x2":5.5,"y":78.3,"y2":78.3},{"x":4.65,"x2":5.5,"y":70.8,"y2":70.8},{"x":4.65,"x2":5.5,"y":64,"y2":64},{"x":4.65,"x2":5.5,"y":56.5,"y2":56.5},{"x":9,"x2":9,"y":49.7,"y2":50.9},{"x":13.1,"x2":13.1,"y":49.7,"y2":50.9},{"x":17.3,"x2":17.3,"y":49.7,"y2":50.9},{"x":21.2,"x2":21.2,"y":49.7,"y2":50.9},{"x":25.2,"x2":25.2,"y":49.7,"y2":50.9},{"x":29.1,"x2":29.1,"y":49.7,"y2":50.9},{"x":33,"x2":33,"y":49.7,"y2":50.9},{"x":36.9,"x2":36.9,"y":49.7,"y2":50.9},{"x":40.8,"x2":40.8,"y":49.7,"y2":50.9},{"x":44.6,"x2":44.6,"y":49.7,"y2":50.9},{"x":48.5,"x2":48.5,"y":49.7,"y2":50.9},{"x":52.4,"x2":52.4,"y":49.7,"y2":50.9}]},"mark":{"type":"rule","color":"#555555"},"encoding":{"x":{"field":"x","type":"quantitative"},"x2":{"field":"x2"},"y":{"field":"y","type":"quantitative"},"y2":{"field":"y2"}}},
{"data":{"values":[{"y":95,"c":"b"},{"y":80.1,"c":"o"}]},"mark":{"type":"rule","strokeWidth":2.5},"encoding":{"x":{"datum":57.8},"x2":{"datum":65.4},"y":{"field":"y","type":"quantitative"},"color":{"field":"c","type":"nominal","scale":{"domain":["b","o"],"range":["#3a9ad9","#f0b048"]},"legend":null}}},
{"data":{"values":[{"x":32.2,"y":80.7,"l":"signal"},{"x":32.2,"y":70.2,"l":"unknown"},{"x":51.8,"y":38.5,"l":"no. informative channels unknown"}]},"mark":{"type":"text","fontSize":15,"align":"center","baseline":"middle","color":"#333333"},"encoding":{"x":{"field":"x","type":"quantitative"},"y":{"field":"y","type":"quantitative"},"text":{"field":"l"}}},
{"data":{"values":[{"x":68.1,"y":95,"l":"real decoding"},{"x":68.1,"y":80.1,"l":"shuffled-labels"},{"x":68.1,"y":68.3,"l":"decoding"}]},"mark":{"type":"text","fontSize":15,"align":"left","baseline":"middle","color":"#333333"},"encoding":{"x":{"field":"x","type":"quantitative"},"y":{"field":"y","type":"quantitative"},"text":{"field":"l"}}},
{"mark":{"type":"text","text":"B","fontSize":11,"fontWeight":"bold","align":"left","baseline":"alphabetic","color":"#111111"},"encoding":{"x":{"datum":-4},"y":{"datum":7.5}}},
{"mark":{"type":"text","text":"Spatiotemporal SVR","fontSize":17.5,"fontWeight":"bold","align":"left","baseline":"alphabetic","color":"#111111"},"encoding":{"x":{"datum":2},"y":{"datum":7.5}}}
]},
{"width":301,"height":161,"data":{"name":"a2"},"layer":[
{"data":{"values":[{"a":527,"b":603},{"a":666,"b":782},{"a":845,"b":931}]},"mark":{"type":"rect","color":"#e6c8d7"},"encoding":{"x":{"field":"a","type":"quantitative","scale":{"domain":[-100,1200],"nice":false,"zero":false},"axis":{"values":[-100,0,100,200,300,400,500,600,700,800,900,1000,1100,1200],"labels":false,"title":null}},"x2":{"field":"b"},"y":{"datum":-0.1,"type":"quantitative","scale":{"domain":[-0.1,0.2],"nice":false,"zero":false},"axis":{"values":[0,0.1,0.2],"format":"~g","title":null}},"y2":{"datum":0.2}}},
{"data":{"name":"grid"},"mark":{"type":"rule","color":"#bbbbbb","strokeDash":[4,4]},"encoding":{"x":{"field":"g","type":"quantitative"}}},
{"data":{"values":[{}]},"mark":{"type":"rule","color":"#111111","strokeDash":[2,2],"strokeWidth":1.3},"encoding":{"x":{"datum":0}}},
{"mark":{"type":"errorband","color":"#3a62bf","band":{"opacity":0.45}},"encoding":{"x":{"field":"t","type":"quantitative"},"y":{"field":"r","type":"quantitative"},"yError":{"field":"e"}}},
{"mark":{"type":"line","color":"#f3b94d","strokeWidth":5,"opacity":0.4,"strokeJoin":"round"},"encoding":{"x":{"field":"t","type":"quantitative"},"y":{"field":"s","type":"quantitative"}}},
{"mark":{"type":"line","color":"#2c5fb3","strokeWidth":1},"encoding":{"x":{"field":"t","type":"quantitative"},"y":{"field":"r","type":"quantitative"}}},
{"mark":{"type":"line","color":"#eea226","strokeWidth":1},"encoding":{"x":{"field":"t","type":"quantitative"},"y":{"field":"s","type":"quantitative"}}}
]},
{"width":301,"height":161,"data":{"name":"b2"},"layer":[
{"data":{"values":[{"a":534,"b":604},{"a":694,"b":773},{"a":835,"b":933}]},"mark":{"type":"rect","color":"#e6c8d7"},"encoding":{"x":{"field":"a","type":"quantitative","scale":{"domain":[-100,1200],"nice":false,"zero":false},"axis":{"values":[-100,0,100,200,300,400,500,600,700,800,900,1000,1100,1200],"labels":false,"title":null}},"x2":{"field":"b"},"y":{"datum":-0.1,"type":"quantitative","scale":{"domain":[-0.1,0.2],"nice":false,"zero":false},"axis":{"values":[0,0.1,0.2],"format":"~g","title":null}},"y2":{"datum":0.2}}},
{"data":{"name":"grid"},"mark":{"type":"rule","color":"#bbbbbb","strokeDash":[4,4]},"encoding":{"x":{"field":"g","type":"quantitative"}}},
{"data":{"values":[{}]},"mark":{"type":"rule","color":"#111111","strokeDash":[2,2],"strokeWidth":1.3},"encoding":{"x":{"datum":0}}},
{"mark":{"type":"errorband","color":"#3a62bf","band":{"opacity":0.45}},"encoding":{"x":{"field":"t","type":"quantitative"},"y":{"field":"r","type":"quantitative"},"yError":{"field":"e"}}},
{"mark":{"type":"line","color":"#f3b94d","strokeWidth":5,"opacity":0.4,"strokeJoin":"round"},"encoding":{"x":{"field":"t","type":"quantitative"},"y":{"field":"s","type":"quantitative"}}},
{"mark":{"type":"line","color":"#2c5fb3","strokeWidth":1},"encoding":{"x":{"field":"t","type":"quantitative"},"y":{"field":"r","type":"quantitative"}}},
{"mark":{"type":"line","color":"#eea226","strokeWidth":1},"encoding":{"x":{"field":"t","type":"quantitative"},"y":{"field":"s","type":"quantitative"}}},
{"data":{"values":[{}]},"mark":{"type":"rect","color":"white","cornerRadius":12},"encoding":{"x":{"datum":-583},"x2":{"datum":297},"y":{"datum":0.128},"y2":{"datum":0.172}}},
{"data":{"values":[{}]},"mark":{"type":"text","text":"10 ms analysis time window","fontSize":15,"align":"left","baseline":"middle","color":"#222222"},"encoding":{"x":{"datum":-536},"y":{"datum":0.15}}}
]},
{"width":301,"height":161,"data":{"name":"a3"},"layer":[
{"data":{"values":[{"a":527,"b":643},{"a":673,"b":782},{"a":816,"b":983}]},"mark":{"type":"rect","color":"#e6c8d7"},"encoding":{"x":{"field":"a","type":"quantitative","scale":{"domain":[-100,1200],"nice":false,"zero":false},"axis":{"values":[-100,0,100,200,300,400,500,600,700,800,900,1000,1100,1200],"labels":false,"title":null}},"x2":{"field":"b"},"y":{"datum":-0.1,"type":"quantitative","scale":{"domain":[-0.1,0.2],"nice":false,"zero":false},"axis":{"values":[0,0.1,0.2],"format":"~g","title":null}},"y2":{"datum":0.2}}},
{"data":{"name":"grid"},"mark":{"type":"rule","color":"#bbbbbb","strokeDash":[4,4]},"encoding":{"x":{"field":"g","type":"quantitative"}}},
{"data":{"values":[{}]},"mark":{"type":"rule","color":"#111111","strokeDash":[2,2],"strokeWidth":1.3},"encoding":{"x":{"datum":0}}},
{"mark":{"type":"errorband","color":"#3a62bf","band":{"opacity":0.45}},"encoding":{"x":{"field":"t","type":"quantitative"},"y":{"field":"r","type":"quantitative"},"yError":{"field":"e"}}},
{"mark":{"type":"line","color":"#f3b94d","strokeWidth":5,"opacity":0.4,"strokeJoin":"round"},"encoding":{"x":{"field":"t","type":"quantitative"},"y":{"field":"s","type":"quantitative"}}},
{"mark":{"type":"line","color":"#2c5fb3","strokeWidth":1},"encoding":{"x":{"field":"t","type":"quantitative"},"y":{"field":"r","type":"quantitative"}}},
{"mark":{"type":"line","color":"#eea226","strokeWidth":1},"encoding":{"x":{"field":"t","type":"quantitative"},"y":{"field":"s","type":"quantitative"}}},
{"data":{"values":[{}]},"mark":{"type":"text","text":"Fisher-Z transformed correlation coefficient (real label, predicted label)","angle":270,"fontSize":15,"align":"center","baseline":"middle","color":"#222222"},"encoding":{"x":{"datum":-234},"y":{"datum":0.053}}}
]},
{"width":301,"height":161,"data":{"name":"b3"},"layer":[
{"data":{"values":[{"a":835,"b":971}]},"mark":{"type":"rect","color":"#e6c8d7"},"encoding":{"x":{"field":"a","type":"quantitative","scale":{"domain":[-100,1200],"nice":false,"zero":false},"axis":{"values":[-100,0,100,200,300,400,500,600,700,800,900,1000,1100,1200],"labels":false,"title":null}},"x2":{"field":"b"},"y":{"datum":-0.1,"type":"quantitative","scale":{"domain":[-0.1,0.2],"nice":false,"zero":false},"axis":{"values":[0,0.1,0.2],"format":"~g","title":null}},"y2":{"datum":0.2}}},
{"data":{"name":"grid"},"mark":{"type":"rule","color":"#bbbbbb","strokeDash":[4,4]},"encoding":{"x":{"field":"g","type":"quantitative"}}},
{"data":{"values":[{}]},"mark":{"type":"rule","color":"#111111","strokeDash":[2,2],"strokeWidth":1.3},"encoding":{"x":{"datum":0}}},
{"mark":{"type":"errorband","color":"#3a62bf","band":{"opacity":0.45}},"encoding":{"x":{"field":"t","type":"quantitative"},"y":{"field":"r","type":"quantitative"},"yError":{"field":"e"}}},
{"mark":{"type":"line","color":"#f3b94d","strokeWidth":5,"opacity":0.4,"strokeJoin":"round"},"encoding":{"x":{"field":"t","type":"quantitative"},"y":{"field":"s","type":"quantitative"}}},
{"mark":{"type":"line","color":"#2c5fb3","strokeWidth":1},"encoding":{"x":{"field":"t","type":"quantitative"},"y":{"field":"r","type":"quantitative"}}},
{"mark":{"type":"line","color":"#eea226","strokeWidth":1},"encoding":{"x":{"field":"t","type":"quantitative"},"y":{"field":"s","type":"quantitative"}}},
{"data":{"values":[{}]},"mark":{"type":"rect","color":"white","cornerRadius":12},"encoding":{"x":{"datum":-583},"x2":{"datum":297},"y":{"datum":0.128},"y2":{"datum":0.172}}},
{"data":{"values":[{}]},"mark":{"type":"text","text":"20 ms analysis time window","fontSize":15,"align":"left","baseline":"middle","color":"#222222"},"encoding":{"x":{"datum":-536},"y":{"datum":0.15}}}
]},
{"width":301,"height":161,"data":{"name":"a4"},"layer":[
{"data":{"values":[{"a":505,"b":586},{"a":596,"b":754},{"a":816,"b":965}]},"mark":{"type":"rect","color":"#e6c8d7"},"encoding":{"x":{"field":"a","type":"quantitative","scale":{"domain":[-100,1200],"nice":false,"zero":false},"axis":{"values":[-100,0,100,200,300,400,500,600,700,800,900,1000,1100,1200],"labels":false,"title":null}},"x2":{"field":"b"},"y":{"datum":-0.1,"type":"quantitative","scale":{"domain":[-0.1,0.2],"nice":false,"zero":false},"axis":{"values":[0,0.1,0.2],"format":"~g","title":null}},"y2":{"datum":0.2}}},
{"data":{"name":"grid"},"mark":{"type":"rule","color":"#bbbbbb","strokeDash":[4,4]},"encoding":{"x":{"field":"g","type":"quantitative"}}},
{"data":{"values":[{}]},"mark":{"type":"rule","color":"#111111","strokeDash":[2,2],"strokeWidth":1.3},"encoding":{"x":{"datum":0}}},
{"mark":{"type":"errorband","color":"#3a62bf","band":{"opacity":0.45}},"encoding":{"x":{"field":"t","type":"quantitative"},"y":{"field":"r","type":"quantitative"},"yError":{"field":"e"}}},
{"mark":{"type":"line","color":"#f3b94d","strokeWidth":5,"opacity":0.4,"strokeJoin":"round"},"encoding":{"x":{"field":"t","type":"quantitative"},"y":{"field":"s","type":"quantitative"}}},
{"mark":{"type":"line","color":"#2c5fb3","strokeWidth":1},"encoding":{"x":{"field":"t","type":"quantitative"},"y":{"field":"r","type":"quantitative"}}},
{"mark":{"type":"line","color":"#eea226","strokeWidth":1},"encoding":{"x":{"field":"t","type":"quantitative"},"y":{"field":"s","type":"quantitative"}}}
]},
{"width":301,"height":161,"data":{"name":"b4"},"layer":[
{"data":{"values":[{"a":826,"b":971}]},"mark":{"type":"rect","color":"#e6c8d7"},"encoding":{"x":{"field":"a","type":"quantitative","scale":{"domain":[-100,1200],"nice":false,"zero":false},"axis":{"values":[-100,0,100,200,300,400,500,600,700,800,900,1000,1100,1200],"labels":false,"title":null}},"x2":{"field":"b"},"y":{"datum":-0.1,"type":"quantitative","scale":{"domain":[-0.1,0.2],"nice":false,"zero":false},"axis":{"values":[0,0.1,0.2],"format":"~g","title":null}},"y2":{"datum":0.2}}},
{"data":{"name":"grid"},"mark":{"type":"rule","color":"#bbbbbb","strokeDash":[4,4]},"encoding":{"x":{"field":"g","type":"quantitative"}}},
{"data":{"values":[{}]},"mark":{"type":"rule","color":"#111111","strokeDash":[2,2],"strokeWidth":1.3},"encoding":{"x":{"datum":0}}},
{"mark":{"type":"errorband","color":"#3a62bf","band":{"opacity":0.45}},"encoding":{"x":{"field":"t","type":"quantitative"},"y":{"field":"r","type":"quantitative"},"yError":{"field":"e"}}},
{"mark":{"type":"line","color":"#f3b94d","strokeWidth":5,"opacity":0.4,"strokeJoin":"round"},"encoding":{"x":{"field":"t","type":"quantitative"},"y":{"field":"s","type":"quantitative"}}},
{"mark":{"type":"line","color":"#2c5fb3","strokeWidth":1},"encoding":{"x":{"field":"t","type":"quantitative"},"y":{"field":"r","type":"quantitative"}}},
{"mark":{"type":"line","color":"#eea226","strokeWidth":1},"encoding":{"x":{"field":"t","type":"quantitative"},"y":{"field":"s","type":"quantitative"}}},
{"data":{"values":[{}]},"mark":{"type":"rect","color":"white","cornerRadius":12},"encoding":{"x":{"datum":-583},"x2":{"datum":297},"y":{"datum":0.128},"y2":{"datum":0.172}}},
{"data":{"values":[{}]},"mark":{"type":"text","text":"50 ms analysis time window","fontSize":15,"align":"left","baseline":"middle","color":"#222222"},"encoding":{"x":{"datum":-536},"y":{"datum":0.15}}}
]},
{"width":278,"height":161,"data":{"name":"a5"},"layer":[
{"data":{"values":[{"a":455,"b":753},{"a":764,"b":931}]},"mark":{"type":"rect","color":"#e6c8d7"},"encoding":{"x":{"field":"a","type":"quantitative","scale":{"domain":[-100,1100],"nice":false,"zero":false},"axis":{"values":[-100,0,100,200,300,400,500,600,700,800,900,1000,1100],"labels":false,"title":"Time [ms]","titleFontSize":16,"titleFontWeight":"normal","titleColor":"#222222","titlePadding":11,"titleX":152}},"x2":{"field":"b"},"y":{"datum":-0.1,"type":"quantitative","scale":{"domain":[-0.1,0.2],"nice":false,"zero":false},"axis":{"values":[0,0.1,0.2],"format":"~g","title":null}},"y2":{"datum":0.2}}},
{"data":{"name":"grid"},"mark":{"type":"rule","color":"#bbbbbb","strokeDash":[4,4]},"encoding":{"x":{"field":"g","type":"quantitative"}}},
{"data":{"values":[{}]},"mark":{"type":"rule","color":"#111111","strokeDash":[2,2],"strokeWidth":1.3},"encoding":{"x":{"datum":0}}},
{"mark":{"type":"errorband","color":"#3a62bf","band":{"opacity":0.45}},"encoding":{"x":{"field":"t","type":"quantitative"},"y":{"field":"r","type":"quantitative"},"yError":{"field":"e"}}},
{"mark":{"type":"line","color":"#f3b94d","strokeWidth":5,"opacity":0.4,"strokeJoin":"round"},"encoding":{"x":{"field":"t","type":"quantitative"},"y":{"field":"s","type":"quantitative"}}},
{"mark":{"type":"line","color":"#2c5fb3","strokeWidth":1},"encoding":{"x":{"field":"t","type":"quantitative"},"y":{"field":"r","type":"quantitative"}}},
{"mark":{"type":"line","color":"#eea226","strokeWidth":1},"encoding":{"x":{"field":"t","type":"quantitative"},"y":{"field":"s","type":"quantitative"}}},
{"data":{"name":"ticks5"},"mark":{"type":"text","fontSize":9,"baseline":"top","align":"center","dy":4,"color":"#333333"},"encoding":{"x":{"field":"v","type":"quantitative"},"y":{"datum":-0.1},"text":{"field":"v","type":"quantitative","format":"d"}}}
]},
{"width":278,"height":161,"data":{"name":"b5"},"layer":[
{"data":{"values":[{"a":795,"b":941}]},"mark":{"type":"rect","color":"#e6c8d7"},"encoding":{"x":{"field":"a","type":"quantitative","scale":{"domain":[-100,1100],"nice":false,"zero":false},"axis":{"values":[-100,0,100,200,300,400,500,600,700,800,900,1000,1100],"labels":false,"title":"Time [ms]","titleFontSize":16,"titleFontWeight":"normal","titleColor":"#222222","titlePadding":11,"titleX":148}},"x2":{"field":"b"},"y":{"datum":-0.1,"type":"quantitative","scale":{"domain":[-0.1,0.2],"nice":false,"zero":false},"axis":{"values":[0,0.1,0.2],"format":"~g","title":null}},"y2":{"datum":0.2}}},
{"data":{"name":"grid"},"mark":{"type":"rule","color":"#bbbbbb","strokeDash":[4,4]},"encoding":{"x":{"field":"g","type":"quantitative"}}},
{"data":{"values":[{}]},"mark":{"type":"rule","color":"#111111","strokeDash":[2,2],"strokeWidth":1.3},"encoding":{"x":{"datum":0}}},
{"mark":{"type":"errorband","color":"#3a62bf","band":{"opacity":0.45}},"encoding":{"x":{"field":"t","type":"quantitative"},"y":{"field":"r","type":"quantitative"},"yError":{"field":"e"}}},
{"mark":{"type":"line","color":"#f3b94d","strokeWidth":5,"opacity":0.4,"strokeJoin":"round"},"encoding":{"x":{"field":"t","type":"quantitative"},"y":{"field":"s","type":"quantitative"}}},
{"mark":{"type":"line","color":"#2c5fb3","strokeWidth":1},"encoding":{"x":{"field":"t","type":"quantitative"},"y":{"field":"r","type":"quantitative"}}},
{"mark":{"type":"line","color":"#eea226","strokeWidth":1},"encoding":{"x":{"field":"t","type":"quantitative"},"y":{"field":"s","type":"quantitative"}}},
{"data":{"name":"ticks5"},"mark":{"type":"text","fontSize":9,"baseline":"top","align":"center","dy":4,"color":"#333333"},"encoding":{"x":{"field":"v","type":"quantitative"},"y":{"datum":-0.1},"text":{"field":"v","type":"quantitative","format":"d"}}},
{"data":{"values":[{}]},"mark":{"type":"rect","color":"white","cornerRadius":12},"encoding":{"x":{"datum":-583},"x2":{"datum":314},"y":{"datum":0.128},"y2":{"datum":0.172}}},
{"data":{"values":[{}]},"mark":{"type":"text","text":"100 ms analysis time window","fontSize":15,"align":"left","baseline":"middle","color":"#222222"},"encoding":{"x":{"datum":-553},"y":{"datum":0.15}}}
]}
]
}
